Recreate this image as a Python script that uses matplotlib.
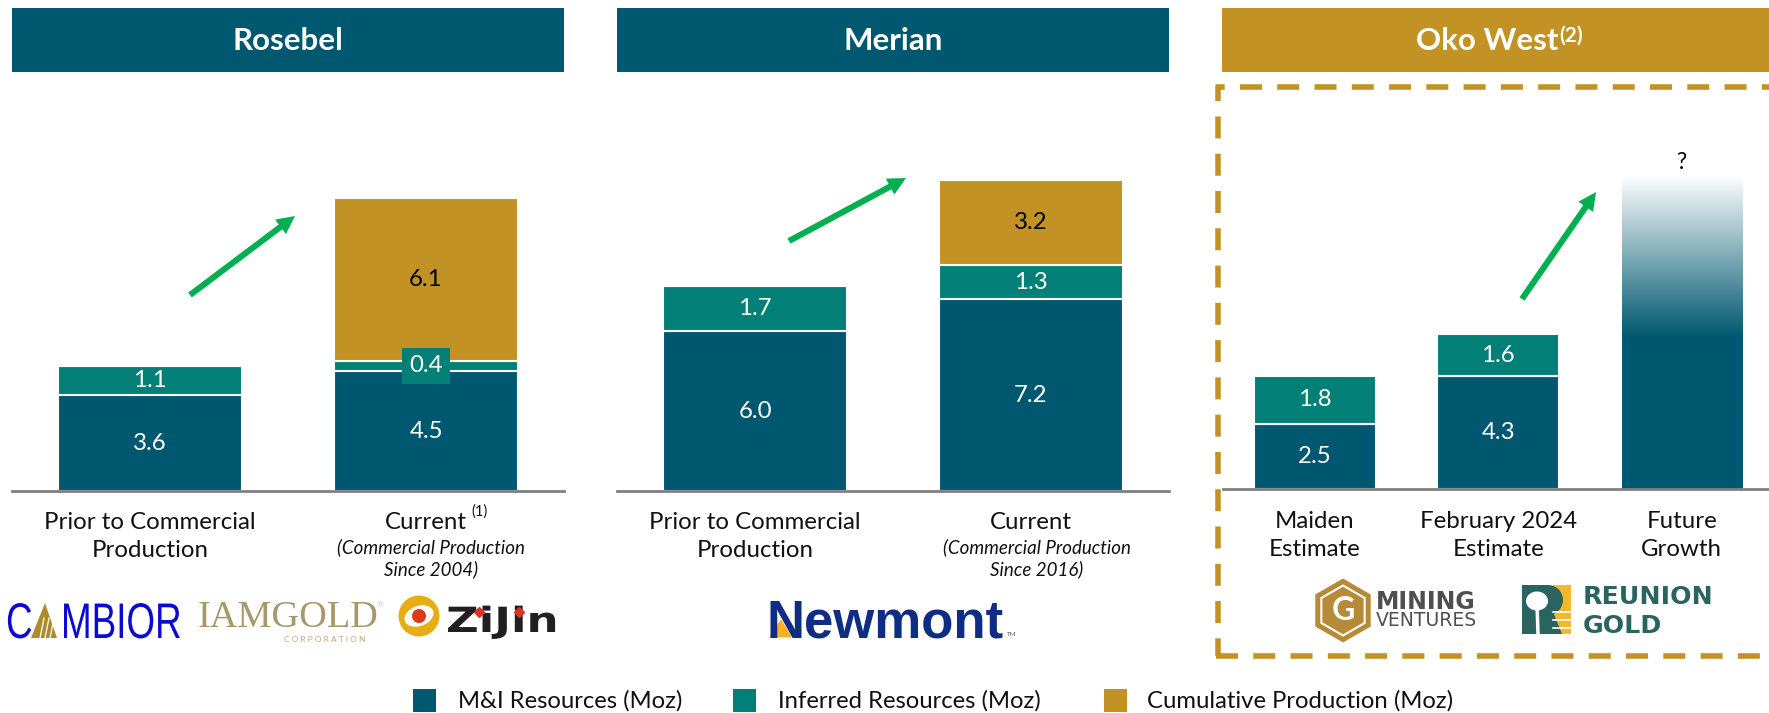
import numpy as np
import matplotlib
matplotlib.use("Agg")
import matplotlib.pyplot as plt
import matplotlib.patheffects as pe
from matplotlib.colors import LinearSegmentedColormap
from matplotlib.patches import Circle, Ellipse, Polygon, Rectangle, RegularPolygon
from matplotlib.transforms import Affine2D

plt.rcParams['font.family'] = ['Lato', 'DejaVu Sans']
plt.rcParams['lines.scale_dashes'] = False

W, H = 1769, 713
NAVY = '#005870'
TEAL = '#027F77'
GOLD = '#C39224'
GREEN = '#00B050'
GREY = '#808080'
BAR_W = 0.665

# data (Moz)
rosebel_labels = ['Prior to Commercial\nProduction', 'Current']
rosebel_mi = [3.6, 4.5]
rosebel_inferred = [1.1, 0.4]
rosebel_production = [0, 6.1]

merian_labels = ['Prior to Commercial\nProduction', 'Current']
merian_mi = [6.0, 7.2]
merian_inferred = [1.7, 1.3]
merian_production = [0, 3.2]

oko_labels = ['Maiden\nEstimate', 'February 2024\nEstimate', 'Future\nGrowth']
oko_mi = [2.5, 4.3]
oko_inferred = [1.8, 1.6]
oko_future_top = 12.0
oko_future_solid = 5.8

legend_labels = ['M&I Resources (Moz)', 'Inferred Resources (Moz)', 'Cumulative Production (Moz)']


class Stretch(pe.AbstractPathEffect):
    """stretch a text around a pixel anchor, for logo lettering"""

    def __init__(self, sx, sy, x0, y0):
        super().__init__()
        self.scale = Affine2D().translate(-x0, -y0).scale(sx, sy).translate(x0, y0)

    def draw_path(self, renderer, gc, tpath, affine, rgbFace=None):
        renderer.draw_path(gc, tpath, affine + self.scale, rgbFace)


def make_panel(fig, x0, x1, base, px_per_moz, xlim):
    top = 90
    ax = fig.add_axes([x0 / W, 1 - base / H, (x1 - x0) / W, (base - top) / H])
    ax.patch.set_visible(False)
    ax.set_xlim(*xlim)
    ax.set_ylim(0, (base - top) / px_per_moz)
    for side in ['top', 'left', 'right']:
        ax.spines[side].set_visible(False)
    ax.spines['bottom'].set_color(GREY)
    ax.spines['bottom'].set_linewidth(2)
    ax.set_yticks([])
    return ax


def stacked_bars(ax, mi, inferred, production=None):
    xs = np.arange(len(mi))
    mi = np.array(mi, dtype=float)
    inferred = np.array(inferred, dtype=float)
    ax.bar(xs, mi, BAR_W, color=NAVY, edgecolor='white', linewidth=1.5)
    ax.bar(xs, inferred, BAR_W, bottom=mi, color=TEAL, edgecolor='white', linewidth=1.5)
    for x, m, i in zip(xs, mi, inferred):
        ax.text(x, m / 2, f'{m:.1f}', color='white', fontsize=17.3, ha='center', va='center', zorder=6)
        box = dict(boxstyle='square,pad=0.32', fc=TEAL, ec='none') if i < 0.8 else None
        ax.text(x, m + i / 2, f'{i:.1f}', color='white', fontsize=17.3, ha='center', va='center',
                bbox=box, zorder=6)
    if production is not None:
        production = np.array(production, dtype=float)
        ax.bar(xs, production, BAR_W, bottom=mi + inferred, color=GOLD, edgecolor='white', linewidth=1.5)
        for x, b, p in zip(xs, mi + inferred, production):
            if p > 0:
                ax.text(x, b + p / 2, f'{p:.1f}', color='black', fontsize=17.3, ha='center', va='center',
                        zorder=6)


def set_labels(ax, labels, pad=15):
    ax.set_xticks(range(len(labels)))
    ax.set_xticklabels(labels, fontsize=17.3, color='#111111', linespacing=1.42)
    ax.tick_params(axis='x', length=0, pad=pad)


def draw_header(bg, x0, x1, color, title):
    bg.add_patch(Rectangle((x0, 8), x1 - x0, 64, fc=color, ec='none'))
    bg.text((x0 + x1) / 2, 41, title, color='white', fontsize=22.5, fontweight='bold',
            ha='center', va='center')


def draw_arrow(bg, tail, tip):
    bg.annotate('', xy=tip, xytext=tail,
                arrowprops=dict(facecolor=GREEN, edgecolor='none', width=4.4, headwidth=13,
                                headlength=13, shrink=0))


def draw_dashed_box(bg):
    dash = dict(color=GOLD, lw=4, solid_capstyle='butt', dash_capstyle='butt')
    bg.plot([1215.5, 1775], [87, 87], ls=(9.6, (15.84, 11)), **dash)
    bg.plot([1218, 1218], [84.5, 656], ls=(4.2, (15.84, 11)), **dash)
    bg.plot([1215.5, 1775], [656, 656], ls=(0, (15.84, 11)), **dash)


def draw_logos(bg):
    # Cambior, tall lettering
    blue = '#0A0AD2'
    tall = [Stretch(1, 1.36, 0, H - 638)]
    bg.text(6, 638, 'C', color=blue, fontsize=26.5, family='Liberation Sans', ha='left', va='baseline',
            path_effects=tall)
    bg.text(61, 638, 'MBIOR', color=blue, fontsize=26.5, family='Liberation Sans', ha='left', va='baseline',
            path_effects=tall)
    bg.add_patch(Polygon([(31, 638), (45, 603), (57, 638)], fc='#AD8A2B', ec='none'))
    for x in [40, 45, 50]:
        bg.plot([x, x + 4], [638, 618], color='white', lw=0.9)

    # IAMGOLD
    bg.text(198, 627, 'IAMGOLD', color='#A8976B', fontsize=27.5, family='Liberation Serif',
            ha='left', va='baseline')
    bg.text(325, 640, 'C O R P O R A T I O N', color='#C4A877', fontsize=6, ha='center', va='center')
    bg.text(380, 605, '®', color='#C8C8C8', fontsize=6, ha='center', va='center')

    # Zijin
    bg.add_patch(Circle((419, 616), 20.5, fc='#E6AE14', ec='none'))
    bg.add_patch(Ellipse((419, 616), 30, 20, angle=-20, fc='white', ec='none'))
    bg.add_patch(Circle((419, 616), 7, fc='#DD3A1A', ec='none'))
    bg.text(446, 632, 'ZiJin', color='#231F20', fontsize=25, fontweight='bold', family='DejaVu Sans',
            ha='left', va='baseline', path_effects=[Stretch(1.3, 1, 446, 0)])
    bg.plot([479, 519], [612, 612], ls='none', marker='D', ms=5, color='#D8342A', zorder=5)

    # Newmont
    bg.text(767, 637, 'Newmont', color='#0F2D82', fontsize=38, fontweight='bold',
            family='Liberation Sans', ha='left', va='baseline')
    bg.add_patch(Polygon([(768, 638), (781, 618), (793, 638)], fc='#FDB022', ec='white', lw=0.8))
    bg.text(1012, 635, 'TM', color='#555555', fontsize=4.5, ha='center', va='center')

    # G Mining Ventures
    bg.add_patch(RegularPolygon((1343, 610.5), 6, radius=32, fc='#B68A38', ec='none'))
    bg.add_patch(RegularPolygon((1343, 610.5), 6, radius=25, fc='none', ec='white', lw=1.5))
    bg.text(1343, 611, 'G', color='white', fontsize=23, fontweight='bold', ha='center', va='center')
    bg.text(1376, 609, 'MINING', color='#4F4F4F', fontsize=17, fontweight='bold', family='DejaVu Sans',
            ha='left', va='baseline')
    bg.text(1376, 626, 'VENTURES', color='#4F4F4F', fontsize=13.5, family='DejaVu Sans',
            ha='left', va='baseline')

    # Reunion Gold
    bg.add_patch(Rectangle((1553, 585), 18, 49, fc='#F2B92E', ec='none'))
    for y in [612, 620, 628]:
        bg.plot([1553, 1571], [y, y], color='white', lw=1.2)
    bg.add_patch(Rectangle((1522, 585), 26, 49, fc='#2A6460', ec='none'))
    bg.add_patch(Ellipse((1548, 600), 30, 30, fc='#2A6460', ec='none'))
    bg.add_patch(Polygon([(1542, 612), (1553, 612), (1562, 634), (1548, 634)], fc='#2A6460', ec='none'))
    bg.add_patch(Ellipse((1537, 601), 22, 19, fc='white', ec='none'))
    bg.plot([1537, 1538], [604, 634], color='white', lw=2.5)
    bg.text(1583, 604, 'REUNION', color='#2A6460', fontsize=18.2, fontweight='bold', family='DejaVu Sans',
            ha='left', va='baseline')
    bg.text(1583, 633, 'GOLD', color='#2A6460', fontsize=18.2, fontweight='bold', family='DejaVu Sans',
            ha='left', va='baseline')


def draw_legend(bg):
    squares = [413, 733, 1104]
    text_x = [458, 778, 1147]
    colors = [NAVY, TEAL, GOLD]
    for sx, tx, color, label in zip(squares, text_x, colors, legend_labels):
        bg.add_patch(Rectangle((sx, 689), 23, 23, fc=color, ec='none'))
        bg.text(tx, 701, label, fontsize=17.2, color='#111111', ha='left', va='center')


def main():
    fig = plt.figure(figsize=(W / 100, H / 100), dpi=100, facecolor='white')

    # full-figure layer in pixel coordinates for everything around the bars
    bg = fig.add_axes([0, 0, 1, 1])
    bg.set_xlim(0, W)
    bg.set_ylim(H, 0)
    bg.axis('off')

    draw_header(bg, 12, 564, NAVY, 'Rosebel')
    draw_header(bg, 617, 1169, NAVY, 'Merian')
    bg.add_patch(Rectangle((1222, 8), W - 1222, 64, fc=GOLD, ec='none'))
    bg.text(1487, 41, 'Oko West', color='white', fontsize=22.5, fontweight='bold', ha='center', va='center')
    bg.text(1571, 36, '(2)', color='white', fontsize=15, fontweight='bold', ha='center', va='center')

    draw_dashed_box(bg)

    ax1 = make_panel(fig, 12, 564, 491, 26.6, (-0.5, 1.5))
    stacked_bars(ax1, rosebel_mi, rosebel_inferred, rosebel_production)
    set_labels(ax1, rosebel_labels)

    ax2 = make_panel(fig, 617, 1169, 491, 26.6, (-0.5, 1.5))
    stacked_bars(ax2, merian_mi, merian_inferred, merian_production)
    set_labels(ax2, merian_labels)

    ax3 = make_panel(fig, 1223, W, 489, 26.2, (-0.5, 2.476))
    stacked_bars(ax3, oko_mi, oko_inferred)
    set_labels(ax3, oko_labels, pad=16)

    # future growth bar: solid up to oko_future_solid, then fades out to white
    fade = LinearSegmentedColormap.from_list('fade', ['white', NAVY])
    heights = np.linspace(0, oko_future_top, 300)
    ramp = np.clip((oko_future_top - heights) / (oko_future_top - oko_future_solid), 0, 1)
    bar = ax3.bar([2], [oko_future_top], 0.655, color='none')[0]
    im = ax3.imshow(ramp[:, None], cmap=fade, vmin=0, vmax=1, origin='lower', aspect='auto',
                    extent=(2 - 0.3275, 2 + 0.3275, 0, oko_future_top))
    im.set_clip_path(bar)
    ax3.set_xlim(-0.5, 2.476)
    ax3.set_ylim(0, (489 - 90) / 26.2)
    ax3.text(2, oko_future_top + 0.45, '?', fontsize=16.5, color='black', ha='center', va='center')

    # notes under the axis labels
    bg.text(480, 512, '(1)', fontsize=10.5, color='#111111', ha='center', va='center')
    bg.text(431, 558, '(Commercial Production\nSince 2004)', fontsize=13.5, style='italic', color='#111111',
            ha='center', va='center', linespacing=1.25)
    bg.text(1037, 558, '(Commercial Production\nSince 2016)', fontsize=13.5, style='italic', color='#111111',
            ha='center', va='center', linespacing=1.25)

    draw_arrow(bg, (190, 295), (295, 216))
    draw_arrow(bg, (789, 241), (906, 178))
    draw_arrow(bg, (1522, 299), (1596, 192))

    draw_logos(bg)
    draw_legend(bg)

    fig.savefig('out.png', dpi=100)


if __name__ == "__main__":
    main()
